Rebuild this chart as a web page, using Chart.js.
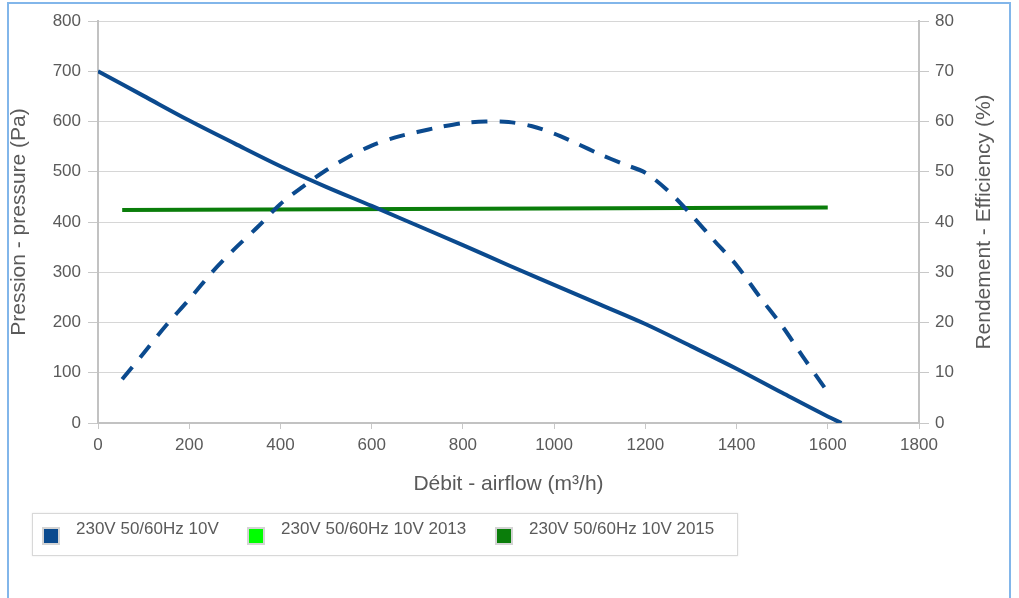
<!DOCTYPE html>
<html>
<head>
<meta charset="utf-8">
<script src="https://cdn.jsdelivr.net/npm/chart.js@4/dist/chart.umd.min.js"></script>
<style>
html,body{margin:0;padding:0;background:#fff;}
#wrap{position:relative;width:1019px;height:598px;overflow:hidden;font-family:"Liberation Sans",Arial,sans-serif;}
#chart{position:absolute;left:0;top:0;}
#frame{position:absolute;left:7px;top:2px;width:1004px;height:700px;border:2px solid #82b6ea;border-bottom:none;box-sizing:border-box;pointer-events:none;}
#legend{position:absolute;left:32px;top:513px;width:706px;height:43px;border:1px solid #d8d8d8;box-shadow:0 0 2px #e8e8e8;box-sizing:border-box;background:#fff;}
.sw{position:absolute;top:13px;width:14px;height:14px;border:2px solid #d4d4d4;}
.lt{position:absolute;top:5px;font-size:17px;line-height:20px;color:#5a5a5a;white-space:nowrap;}
</style>
</head>
<body>
<div id="wrap">
  <canvas id="chart" width="1019" height="598"></canvas>
  <div id="legend"></div>
  <div id="frame"></div>
</div>
<script>
// ---- data ----
const flowPressure = [0,100,200,300,400,500,600,700,800,900,1000,1100,1200,1300,1400,1500,1600,1630];
const pressure     = [700,651,602,556,511,470,432,393,354,314,275,236,197,153,108,60,13,0];

const flowEff    = [53,100,150,200,250,300,350,400,450,500,550,600,650,700,750,800,850,900,950,1000,1050,1100,1150,1200,1250,1300,1350,1400,1450,1500,1550,1595];
const efficiency = [8.7,13.9,19.5,24.6,30.0,34.7,39.0,43.6,47.1,50.3,53.0,55.2,56.8,57.9,58.9,59.7,60.0,59.9,59.1,57.6,55.6,53.5,51.6,49.8,46.2,41.5,36.4,31.4,25.2,19.3,12.6,6.8];

const flow2013 = [];
const eff2013  = [];

const flow2015 = [53,1600];
const eff2015  = [42.4,42.9];

const seriesNames = ["230V 50/60Hz 10V","230V 50/60Hz 10V 2013","230V 50/60Hz 10V 2015"];
const xTicks  = [0,200,400,600,800,1000,1200,1400,1600,1800];
const yTicks  = [0,100,200,300,400,500,600,700,800];
const y1Ticks = [0,10,20,30,40,50,60,70,80];
const xTitle  = "Débit - airflow (m³/h)";
const yTitle  = "Pression - pressure (Pa)";
const y1Title = "Rendement - Efficiency (%)";

// ---- styling ----
const BLUE = '#0b4a8e', LGREEN = '#00ff00', DGREEN = '#0a7d0a';
const FONT = '"Liberation Sans", Arial, sans-serif';
const TXT = '#5a5a5a';
const pts = (xs, ys) => xs.map((x, i) => ({x: x, y: ys[i]}));
const plain = v => String(v);

const rightTitle = {
  id: 'rightTitle',
  afterDraw(chart) {
    const s = chart.scales.y1, a = chart.chartArea, ctx = chart.ctx;
    ctx.save();
    ctx.translate(s.right - 8, (a.top + a.bottom) / 2);
    ctx.rotate(-Math.PI / 2);
    ctx.font = '21px ' + FONT;
    ctx.fillStyle = TXT;
    ctx.textAlign = 'center';
    ctx.textBaseline = 'middle';
    ctx.fillText(y1Title, 0, 0);
    ctx.restore();
  }
};

const chart = new Chart(document.getElementById('chart'), {
  type: 'line',
  data: {
    datasets: [
      {label: seriesNames[0], data: pts(flowPressure, pressure), yAxisID: 'y', borderColor: BLUE, backgroundColor: BLUE, borderWidth: 4, pointRadius: 0, cubicInterpolationMode: 'monotone', fill: false},
      {label: seriesNames[0], data: pts(flowEff, efficiency), yAxisID: 'y1', borderColor: BLUE, backgroundColor: BLUE, borderWidth: 4, borderDash: [16, 12], pointRadius: 0, tension: 0.3, fill: false},
      {label: seriesNames[1], data: pts(flow2013, eff2013), yAxisID: 'y1', borderColor: LGREEN, backgroundColor: LGREEN, borderWidth: 4, pointRadius: 0, fill: false},
      {label: seriesNames[2], data: pts(flow2015, eff2015), yAxisID: 'y1', borderColor: DGREEN, backgroundColor: DGREEN, borderWidth: 4, pointRadius: 0, fill: false}
    ]
  },
  options: {
    responsive: false,
    animation: false,
    events: [],
    layout: {padding: {left: 7, right: 27, top: 21, bottom: 101}},
    plugins: {legend: {display: false}, tooltip: {enabled: false}},
    scales: {
      x: {
        type: 'linear', min: 0, max: 1800,
        afterBuildTicks: s => { s.ticks = xTicks.map(v => ({value: v})); },
        afterFit: s => { s.height = 74; },
        ticks: {color: TXT, font: {family: FONT, size: 17}, padding: 6, maxRotation: 0, callback: plain},
        grid: {drawOnChartArea: false, drawTicks: true, tickLength: 6, tickColor: '#c8c8c8'},
        border: {color: '#c2c2c2', width: 2},
        title: {display: true, text: xTitle, color: TXT, font: {family: FONT, size: 21}, padding: {top: 0, bottom: 0}}
      },
      y: {
        position: 'left', min: 0, max: 800,
        afterBuildTicks: s => { s.ticks = yTicks.map(v => ({value: v})); },
        afterFit: s => { s.width = 91; },
        ticks: {color: TXT, font: {family: FONT, size: 17}, padding: 7, callback: plain},
        grid: {color: '#d6d6d6', lineWidth: 1, tickLength: 10, tickColor: '#c8c8c8'},
        border: {color: '#c2c2c2', width: 2},
        title: {display: true, text: yTitle, color: TXT, font: {family: FONT, size: 21}, padding: {top: 0, bottom: 0}}
      },
      y1: {
        position: 'right', min: 0, max: 80,
        afterBuildTicks: s => { s.ticks = y1Ticks.map(v => ({value: v})); },
        afterFit: s => { s.width = 73; },
        ticks: {color: TXT, font: {family: FONT, size: 17}, padding: 6, callback: plain},
        grid: {drawOnChartArea: false, tickLength: 10, tickColor: '#c8c8c8'},
        border: {color: '#c2c2c2', width: 2}
      }
    }
  },
  plugins: [rightTitle]
});

// HTML legend built from the series names / colours
const legendColors = [BLUE, LGREEN, DGREEN];
const swLeft = [9, 214, 462];
const lg = document.getElementById('legend');
seriesNames.forEach((name, i) => {
  const sw = document.createElement('div');
  sw.className = 'sw'; sw.style.left = swLeft[i] + 'px'; sw.style.background = legendColors[i];
  const t = document.createElement('div');
  t.className = 'lt'; t.style.left = (swLeft[i] + 34) + 'px'; t.textContent = name;
  lg.appendChild(sw); lg.appendChild(t);
});
</script>
</body>
</html>
